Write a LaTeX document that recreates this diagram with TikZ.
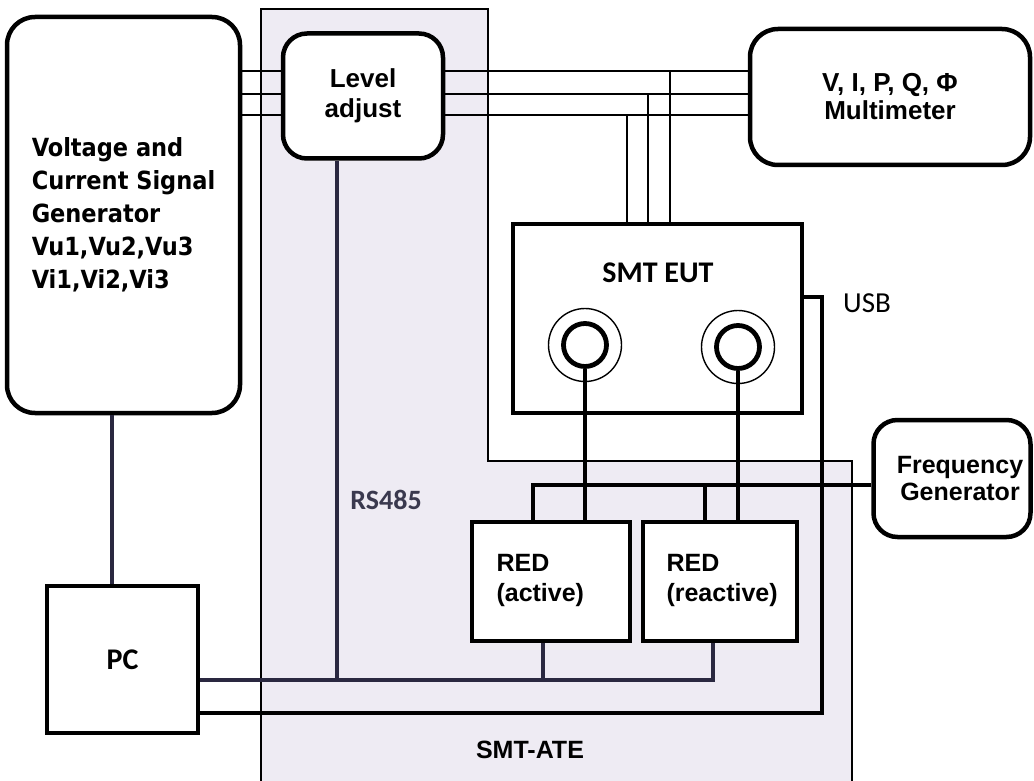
\documentclass[tikz,border=0pt]{standalone}
\usepackage{fontspec}
\setmainfont{Liberation Sans}
\newfontfamily\calfont{Carlito}
\newfontfamily\dvcfont{DejaVu Sans Condensed}
\usetikzlibrary{calc}
\definecolor{atefill}{HTML}{EEEBF3}
\definecolor{navy}{HTML}{2A2840}
\definecolor{lblgrey}{HTML}{3A394E}
\begin{document}
\begin{tikzpicture}[x=1pt,y=-1pt,
  box/.style={draw=black, line width=4.5pt, fill=white, inner sep=0pt, align=center},
  rbox/.style={box, rounded corners=28pt},
  phase/.style={line width=1.8pt, draw=black},
  wire/.style={line width=3.8pt, draw=black},
  navywire/.style={line width=3.2pt, draw=navy},
  arial/.style={font=\fontsize{26}{30}\selectfont\bfseries},
  ring/.style={circle, draw=black, line width=1.4pt, minimum size=73pt, inner sep=0pt},
  jack/.style={circle, draw=black, line width=4.8pt, minimum size=43pt, inner sep=0pt, fill=white}]
\useasboundingbox (0,0) rectangle (1034,781);
% SMT-ATE region
\fill[atefill] (261,9) -- (488,9) -- (488,461) -- (852,461) -- (852,785) -- (261,785) -- cycle;
\draw[line width=1.3pt] (261,785) -- (261,9) -- (488,9) -- (488,461) -- (852,461) -- (852,785);
\node[font=\fontsize{25}{28}\selectfont\bfseries] (atelbl) at (530,750) {SMT-ATE};

% boxes
\node[rbox, minimum width=233pt, minimum height=396pt, align=left,
      font=\dvcfont\fontsize{25}{33}\selectfont\bfseries] (gen) at (123.5,215)
      {Voltage and\\Current Signal\\Generator\\Vu1,Vu2,Vu3\\Vi1,Vi2,Vi3};
\node[rbox, rounded corners=24pt, minimum width=160pt, minimum height=125pt, arial] (lvl) at (363,96) {Level\\adjust};
\node[rbox, minimum width=280pt, minimum height=136pt, font=\fontsize{26}{28}\selectfont\bfseries] (mm) at (890,97) {V, I, P, Q, Φ\\Multimeter};
\node[box, minimum width=289pt, minimum height=189pt] (eut) at (657.5,318.5) {};
\node[font=\calfont\fontsize{30}{32}\selectfont\bfseries] (euttitle) at (658,273) {SMT EUT};
\node[rbox, rounded corners=24pt, minimum width=157pt, minimum height=117pt, font=\fontsize{25}{27}\selectfont\bfseries] (freq) at (952,478.5) {\hspace*{16pt}Frequency\\\hspace*{16pt}Generator};
\node[box, minimum width=158pt, minimum height=119pt] (reda) at (551,581.5) {};
\node[box, minimum width=154pt, minimum height=119pt] (redr) at (720,581.5) {};
\node[anchor=west, align=left, font=\fontsize{25}{30}\selectfont\bfseries] (redatext) at (493,580) {RED\\(active)};
\node[anchor=west, align=left, font=\fontsize{25}{30}\selectfont\bfseries] (redrtext) at (663,580) {RED\\(reactive)};
\node[box, minimum width=151pt, minimum height=147pt, font=\calfont\fontsize{30}{32}\selectfont\bfseries] (pc) at (122.5,659.5) {PC};

% jacks
\node[ring] (c1o) at (585,345) {};
\node[jack] (c1) at (585,345) {};
\node[ring] (c2o) at (738,347) {};
\node[jack] (c2) at (738,347) {};

% level coordinates
\coordinate (p1) at (0,71);
\coordinate (p2) at (0,94);
\coordinate (p3) at (0,115);
\coordinate (v1) at (670,0);
\coordinate (v2) at (648,0);
\coordinate (v3) at (627,0);
\coordinate (gp) at (112,0);
\coordinate (rs) at (337,0);
\coordinate (b1) at (0,680);
\coordinate (b2) at (0,713);
\coordinate (fb) at (0,485);
\coordinate (fa) at (533,0);
\coordinate (fr) at (705,0);
\coordinate (ba) at (543,0);
\coordinate (br) at (713,0);
\coordinate (us) at (822,297);

% three-phase lines
\foreach \p in {p1,p2,p3} {
  \draw[phase] (gen.east |- \p) -- (lvl.west |- \p);
  \draw[phase] (lvl.east |- \p) -- (mm.west |- \p);
}
\draw[phase] (v1 |- p1) -- (v1 |- eut.north);
\draw[phase] (v2 |- p2) -- (v2 |- eut.north);
\draw[phase] (v3 |- p3) -- (v3 |- eut.north);

% generator to PC
\draw[navywire] (gen.south -| gp) -- (pc.north -| gp);

% RS485 / bus 1
\draw[navywire] (lvl.south -| rs) -- (rs |- b1);
\draw[navywire] (pc.east |- b1) -- (br |- b1) -- (br |- redr.south);
\draw[navywire] (ba |- b1) -- (ba |- reda.south);
\node[font=\calfont\fontsize{28}{30}\selectfont\bfseries, text=lblgrey] (rslbl) at (386,500) {RS485};

% USB / bus 2
\draw[wire, line width=4.2pt] (pc.east |- b2) -- (us |- b2) -- (us) -- (eut.east |- us);
\node[font=\calfont\fontsize{29}{30}\selectfont] (usblbl) at (867,303) {USB};

% EUT jacks to RED
\draw[wire] (c1.south) -- (c1 |- reda.north);
\draw[wire] (c2.south) -- (c2 |- redr.north);

% frequency bus
\draw[wire] (freq.west |- fb) -- (fa |- fb) -- (fa |- reda.north);
\draw[wire] (fr |- fb) -- (fr |- redr.north);
\end{tikzpicture}
\end{document}
